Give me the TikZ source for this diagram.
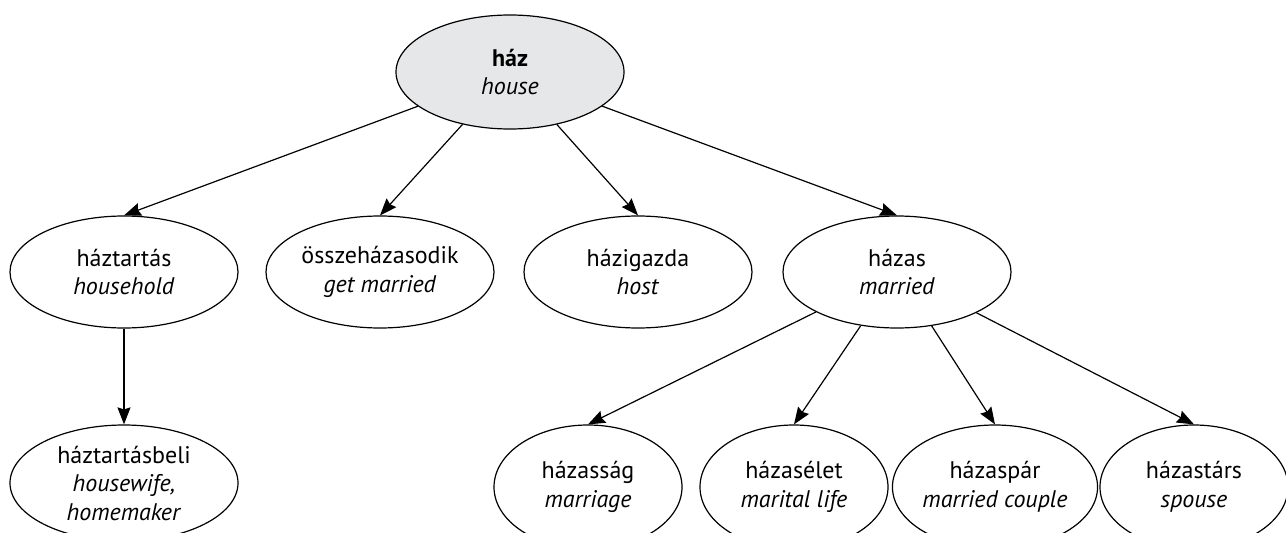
\documentclass[tikz,border=0pt]{standalone}
\usepackage{fontspec}
\setmainfont{PT Sans}
\usetikzlibrary{shapes.geometric,arrows.meta}
\definecolor{nodegray}{RGB}{230,231,232}
\begin{document}
\begin{tikzpicture}[x=1pt,y=-1pt,
  every node/.style={font=\fontsize{24}{28.5}\selectfont},
  bub/.style={ellipse, draw=black, line width=1.2pt, inner sep=0pt, align=center},
  mid/.style={bub, minimum width=228pt, minimum height=112pt},
  low/.style={bub, minimum width=188pt, minimum height=124pt},
  conn/.style={line width=1.2pt, -{Stealth[length=17pt,width=13pt,inset=2pt]}}]
\clip (0,0) rectangle (1286,533);
\useasboundingbox (0,0) rectangle (1286,533);
\node[bub, fill=nodegray, minimum width=228pt, minimum height=114pt] (haz) at (510,72) {\textbf{ház}\\\textit{house}};
\node[mid] (hazt) at (124,272) {háztartás\\\textit{household}};
\node[mid] (ossz) at (380,272) {összeházasodik\\\textit{get married}};
\node[mid] (hazig) at (638,272) {házigazda\\\textit{host}};
\node[mid] (hazas) at (897,272) {házas\\\textit{married}};
\node[bub, minimum width=228pt, minimum height=116pt] (haztb) at (124,483) {háztartásbeli\\\textit{housewife,}\\\textit{homemaker}};
\node[low] (hsag) at (588,487) {házasság\\\textit{marriage}};
\node[low] (helet) at (794,487) {házasélet\\\textit{marital life}};
\node[low] (hpar) at (995,487) {házaspár\\\textit{married couple}};
\node[low] (htars) at (1194,487) {házastárs\\\textit{spouse}};
\draw[conn] (haz) -- (hazt.north);
\draw[conn] (haz) -- (ossz.north);
\draw[conn] (haz) -- (hazig.north);
\draw[conn] (haz) -- (hazas.north);
\draw[conn] (hazt) -- (haztb);
\draw[conn] (hazas) -- (hsag.north);
\draw[conn] (hazas) -- (helet.north);
\draw[conn] (hazas) -- (hpar.north);
\draw[conn] (hazas) -- (htars.north);
\end{tikzpicture}
\end{document}
